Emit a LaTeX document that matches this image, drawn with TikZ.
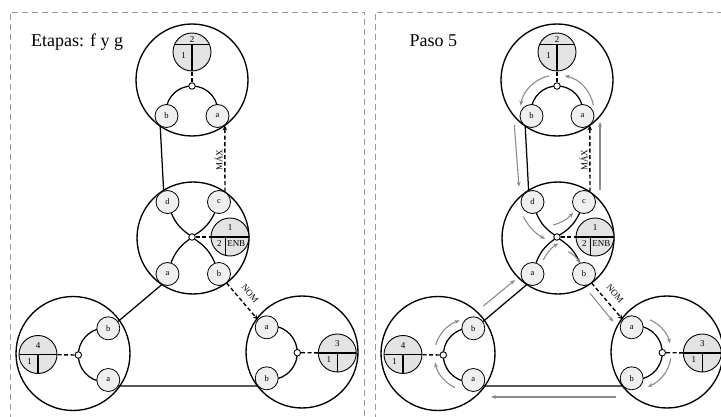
\documentclass[tikz,border=0pt]{standalone}
\usepackage{fontspec}
\setmainfont{Liberation Serif}
\usetikzlibrary{arrows.meta}
\definecolor{subfill}{HTML}{E3E3E3}
\definecolor{nodefill}{HTML}{EFEFEF}
\definecolor{framegray}{HTML}{999999}
\definecolor{flowgray}{HTML}{8C8C8C}
\tikzset{
 outer/.style={line width=1.35pt},
 conn/.style={line width=1.25pt},
 dconn/.style={line width=1.35pt, dash pattern=on 4pt off 2.5pt},
 arm/.style={line width=1.25pt},
 lettern/.style={circle, draw, line width=0.8pt, fill=nodefill, minimum size=23pt, inner sep=0pt, font=\fontsize{8.5}{9}\selectfont},
 junc/.style={circle, draw, line width=0.9pt, fill=white, minimum size=6.5pt, inner sep=0pt},
 lbl/.style={font=\fontsize{9}{10}\selectfont, inner sep=0pt},
 titletext/.style={anchor=base west, font=\fontsize{18}{20}\selectfont, inner sep=0pt},
 frame/.style={draw=framegray, line width=0.7pt, dash pattern=on 6pt off 4pt},
 flow/.style={draw=flowgray, line width=1.1pt, -{Stealth[length=5pt,width=4pt]}},
 blacktip/.style={-{Stealth[length=5pt,width=4.5pt]}},
 pics/splitc/.style n args={5}{code={%
  \pgfmathsetmacro\hx{sqrt(361-(#4)*(#4))}%
  \pgfmathsetmacro\vy{-sqrt(361-(#5)*(#5))}%
  \pgfmathsetmacro\ty{(#4+19)/2-0.5}%
  \pgfmathsetmacro\by{(#4-19)/2+2.5}%
  \pgfmathsetmacro\lx{(#5-19)/2+1}%
  \pgfmathsetmacro\rx{(#5+17)/2}%
  \node[circle, fill=subfill, minimum size=38pt, inner sep=0pt] (-c) at (0,0) {};
  \draw[line width=1.1pt] (-\hx,#4) -- (\hx,#4) (#5,#4) -- (#5,\vy);
  \draw[line width=0.9pt] (0,0) circle (19pt);
  \node[lbl] (-t) at (0,\ty) {#1};
  \node[lbl] (-l) at (\lx,\by) {#2};
  \node[lbl] (-r) at (\rx,\by) {#3};
 }}
}
\newcommand\unitdiagram[1]{%
 \draw[outer] (192,-80) circle (56pt);
 \draw[outer] (193,-238) circle (56pt);
 \draw[outer] (73,-353.5) circle (57pt);
 \draw[outer] (302,-352) circle (56pt);
 \draw[arm] (192,-112) ++(189:26pt) arc[start angle=189,end angle=-9,radius=26pt];
 \draw[arm] (105.3,-355) ++(83:27pt) arc[start angle=83,end angle=277,radius=27pt];
 \draw[arm] (270.3,-352.7) ++(98:27pt) arc[start angle=98,end angle=-98,radius=27pt];
 \pic (#1S2) at (192,-52) {splitc={2}{1}{}{7.5}{0}};
 \pic (#1S1) at (230,-237) {splitc={1}{2}{ENB}{0}{-4.5}};
 \pic (#1S4) at (38,-354.5) {splitc={4}{1}{}{0}{0}};
 \pic (#1S3) at (337.3,-353) {splitc={3}{1}{}{0}{0}};
 \node[lettern] (#1Tb) at (166.5,-116) {b};
 \node[lettern] (#1Ta) at (217.5,-116) {a};
 \node[lettern] (#1Md) at (167.5,-202) {d};
 \node[lettern] (#1Mc) at (219,-202) {c};
 \node[lettern] (#1Ma) at (167.5,-274) {a};
 \node[lettern] (#1Mb) at (219,-274) {b};
 \node[lettern] (#1Lb) at (108.3,-328.3) {b};
 \node[lettern] (#1La) at (108.3,-380) {a};
 \node[lettern] (#1Ra) at (266.7,-327.3) {a};
 \node[lettern] (#1Rb) at (266.7,-378.3) {b};
 \node[junc] (#1TJ) at (192,-86) {};
 \node[junc] (#1MJ) at (192,-237) {};
 \node[junc] (#1LJ) at (78.3,-355) {};
 \node[junc] (#1RJ) at (297.3,-352.7) {};
 \draw[arm] (#1MJ) to[bend left=16] (#1Md);
 \draw[arm] (#1MJ) to[bend right=16] (#1Mc);
 \draw[arm] (#1MJ) to[bend right=16] (#1Ma);
 \draw[arm] (#1MJ) to[bend left=16] (#1Mb);
 \draw[dconn] (#1TJ) -- (#1S2-c);
 \draw[dconn] (#1MJ) -- (#1S1-c);
 \draw[dconn] (#1LJ) -- (#1S4-c);
 \draw[dconn] (#1RJ) -- (#1S3-c);
 \draw[conn] (#1Tb.238) -- (#1Md.109);
 \draw[dconn, blacktip] (#1Mc.60) -- (#1Ta.-52);
 \draw[dconn, blacktip] (#1Mb.-50) -- (#1Ra.139);
 \draw[conn] (#1Ma.242) -- (#1Lb.35);
 \draw[conn] (#1La.-30) -- (#1Rb.220);
 \node[lbl, rotate=90] (#1max) at (218.5,-160) {MÁX};
 \node[lbl, rotate=-50] (#1nom) at (250,-293.5) {NOM};
}
\begin{document}
\begin{tikzpicture}[x=1pt,y=1pt]
 \useasboundingbox (0,0) rectangle (721,-417);
 \clip (0,0) rectangle (721,-417);
 \draw[frame] (10,-430) -- (10,-12) -- (364.5,-12) -- (364.5,-430);
 \draw[frame] (375,-430) -- (375,-12) -- (740,-12);
 \node[titletext] (title1) at (31,-46.5) {Etapas: f y g};
 \node[titletext] (title2) at (409.3,-46.5) {Paso 5};
 \unitdiagram{L}
 \begin{scope}[xshift=365pt]
  \unitdiagram{R}
  \draw[flow] (192,-112) ++(10:37pt) arc[start angle=10,end angle=78,radius=37pt];
  \draw[flow] (192,-112) ++(102:37pt) arc[start angle=102,end angle=170,radius=37pt];
  \draw[flow] (149.3,-125) -- (154,-186.7);
  \draw[flow] (235,-190) -- (235,-122);
  \draw[flow] (158.3,-216.7) to[bend right=15] (180,-239);
  \draw[flow] (188.3,-225) to[bend right=15] (208.3,-212.7);
  \draw[flow] (178.3,-260) to[bend left=15] (193.3,-243.3);
  \draw[flow] (203.3,-251.7) to[bend left=15] (215,-263.3);
  \draw[flow] (118.3,-306) -- (150,-280);
  \draw[flow] (105.3,-355) ++(164:36pt) arc[start angle=164,end angle=107,radius=36pt];
  \draw[flow] (105.3,-355) ++(245:36pt) arc[start angle=245,end angle=192,radius=36pt];
  \draw[flow] (270.3,-352.7) ++(66:36pt) arc[start angle=66,end angle=15,radius=36pt];
  \draw[flow] (270.3,-352.7) ++(-9:36pt) arc[start angle=-9,end angle=-70,radius=36pt];
  \draw[flow] (225,-293.3) -- (248.3,-321.7);
  \draw[flow] (251,-397) -- (126,-397);
 \end{scope}
\end{tikzpicture}
\end{document}
